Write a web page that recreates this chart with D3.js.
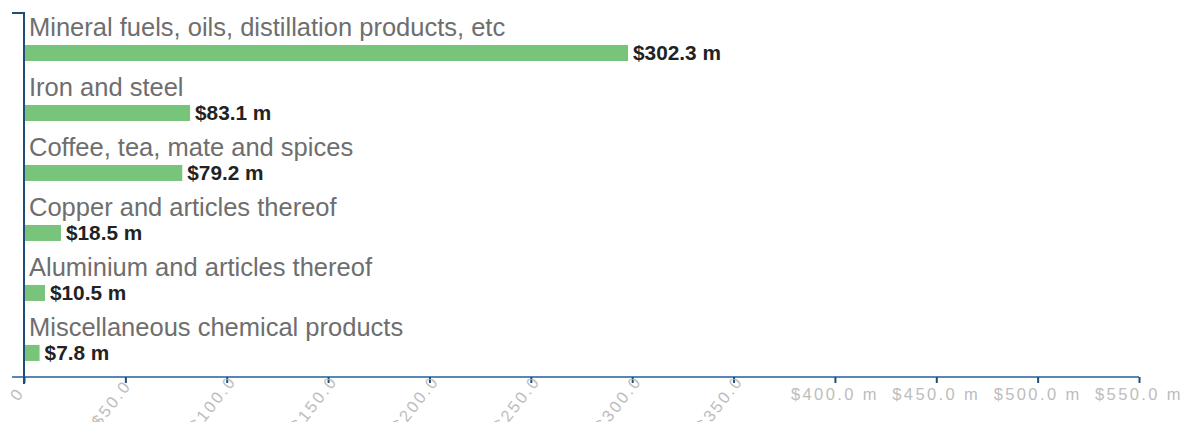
<!DOCTYPE html>
<html>
<head>
<meta charset="utf-8">
<script src="https://cdn.jsdelivr.net/npm/d3@7"></script>
<style>
  body { margin: 0; background: #fff; }
  svg { display: block; }
</style>
</head>
<body>
<svg id="chart" width="1194" height="422"></svg>
<script>
// categories and values ($ m)
const categories = [
  "Mineral fuels, oils, distillation products, etc",
  "Iron and steel",
  "Coffee, tea, mate and spices",
  "Copper and articles thereof",
  "Aluminium and articles thereof",
  "Miscellaneous chemical products"
];
const values = [302.3, 83.1, 79.2, 18.5, 10.5, 7.8];
const xTicks = [0, 50, 100, 150, 200, 250, 300, 350, 400, 450, 500, 550];

const data = categories.map((c, i) => ({ label: c, value: values[i] }));

const svg = d3.select("#chart");
const plotLeft = 24, plotRight = 1139, plotTop = 13, plotBottom = 377;

// axis scale
const x = d3.scaleLinear().domain([0, 550]).range([plotLeft, plotRight]);
// bars are drawn a bit shorter than the axis in the original
const barX = d3.scaleLinear().domain([0, 558]).range([plotLeft, plotRight]);

const y = d3.scaleBand()
  .domain(categories)
  .range([plotTop, plotBottom])
  .paddingInner(0)
  .paddingOuter(0.034)
  .align(0);

const fmt = d => d === 0 ? "0" : "$" + d.toFixed(1) + " m";

// clip for the x labels (parts above the axis line are hidden)
svg.append("defs").append("clipPath").attr("id", "below-axis")
  .append("rect").attr("x", 0).attr("y", plotBottom + 2).attr("width", 1194).attr("height", 60);

// bars
svg.selectAll(".bar")
  .data(data)
  .enter()
  .append("rect")
  .attr("class", "bar")
  .attr("x", barX(0) + 1)
  .attr("y", d => y(d.label) + 32)
  .attr("width", d => barX(d.value) - barX(0) - 1)
  .attr("height", 16)
  .attr("fill", "#78c47a");

// category labels
svg.selectAll(".cat-label")
  .data(data)
  .enter()
  .append("text")
  .attr("class", "cat-label")
  .attr("x", plotLeft + 5)
  .attr("y", d => y(d.label) + 23)
  .text(d => d.label)
  .attr("font-family", "Liberation Sans, Arial, sans-serif")
  .attr("font-size", 25.5)
  .attr("fill", "#6e6e6e");

// value labels
svg.selectAll(".val-label")
  .data(data)
  .enter()
  .append("text")
  .attr("class", "val-label")
  .attr("x", d => barX(d.value) + 5)
  .attr("y", d => y(d.label) + 47)
  .text(d => fmt(d.value))
  .attr("font-family", "Liberation Sans, Arial, sans-serif")
  .attr("font-weight", "bold")
  .attr("font-size", 20.8)
  .attr("fill", "#222");

// x axis
const xAxis = d3.axisBottom(x).tickValues(xTicks).tickSizeInner(6).tickSizeOuter(0).tickFormat("");
const gx = svg.append("g")
  .attr("transform", `translate(0, ${plotBottom})`)
  .call(xAxis);
gx.select(".domain").attr("stroke", "#5a86b2").attr("stroke-width", 2)
  .attr("d", `M${plotLeft - 12},0H${plotRight}`);
gx.selectAll(".tick line").attr("stroke", "#1f4d7a").attr("stroke-width", 2);

// x tick labels: the first ones are slanted, the last ones flat
const gl = svg.append("g").attr("clip-path", "url(#below-axis)");
gl.selectAll("text")
  .data(xTicks)
  .enter()
  .append("text")
  .attr("transform", d => d < 400
    ? `translate(${x(d) - 7}, ${plotBottom + 17}) rotate(-52)`
    : `translate(${x(d)}, ${plotBottom + 17})`)
  .attr("dy", "0.35em")
  .attr("text-anchor", "middle")
  .text(fmt)
  .attr("font-family", "Liberation Sans, Arial, sans-serif")
  .attr("font-size", 16.5)
  .attr("letter-spacing", 2.4)
  .attr("fill", "#bdbdbd");

// y axis
const yAxis = d3.axisLeft(y).tickSizeInner(0).tickSizeOuter(12).tickFormat("");
const gy = svg.append("g")
  .attr("transform", `translate(${plotLeft}, 0)`)
  .call(yAxis);
gy.select(".domain").attr("stroke", "#1f4d7a").attr("stroke-width", 2)
  .attr("d", `M-12,${plotTop}H0V${plotBottom + 7}`);
</script>
</body>
</html>
